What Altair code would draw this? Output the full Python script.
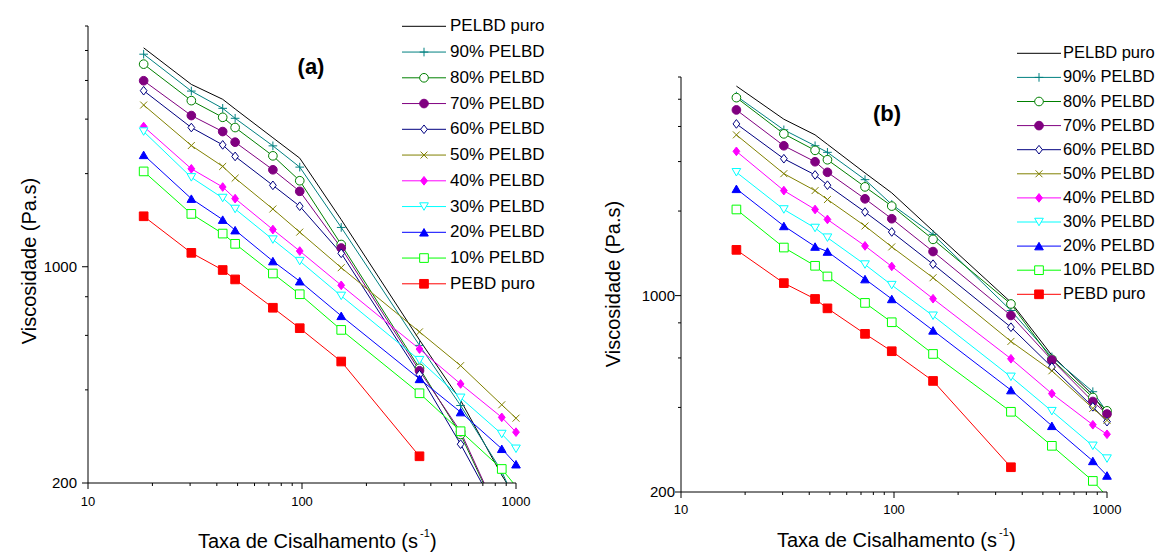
import altair as alt
import pandas as pd

# ---------------- data ----------------
shear_rate = [18.2, 30.4, 42.6, 48.7, 73.1, 97.6, 152.5, 354, 551, 858, 1000]
series = ["PELBD puro", "90% PELBD", "80% PELBD", "70% PELBD", "60% PELBD",
          "50% PELBD", "40% PELBD", "30% PELBD", "20% PELBD", "10% PELBD", "PEBD puro"]

# panel (a)
a_pelbd = [5100, 3885, 3477, 3236, 2612, 2244, 1420, 580, 370, 212, 179]
a_90 = [4864, 3697, 3251, 3019, 2459, 2099, 1340, 557, 356, 218, 172]
a_80 = [4517, 3443, 3041, 2818, 2283, 1897, 1180, 470, 287, 149, 125]
a_70 = [3992, 3081, 2735, 2527, 2058, 1753, 1150, 461, 293, 150, 118]
a_60 = [3707, 2818, 2477, 2273, 1833, 1569, 1105, 448, 267, 152, 125]
a_50 = [3332, 2465, 2110, 1934, 1537, 1294, 993, 616, 479, 358, 324]
a_40 = [2839, 2073, 1810, 1660, 1319, 1124, 871, 542, 418, 326, 292]
a_30 = [2735, 1945, 1668, 1537, 1224, 1043, 805, 499, 377, 288, 258]
a_20 = [2299, 1660, 1420, 1313, 1043, 898, 694, 434, 339, 258, 230]
a_10 = [2033, 1482, 1280, 1186, 951, 815, 625, 390, 294, 222, 195]
a_pebd = [1456, 1109, 976, 910, 737, 633, 494, 244]

# panel (b)
b_pelbd = [5569, 4245, 3734, 3456, 2733, 2321, 1699, 947, 613, 443, 375]
b_90 = [5132, 3891, 3415, 3236, 2587, 2111, 1652, 885, 605, 455, 385]
b_80 = [5066, 3765, 3289, 3045, 2438, 2083, 1586, 934, 593, 434, 389]
b_70 = [4581, 3415, 2996, 2748, 2211, 1878, 1435, 850, 590, 420, 379]
b_60 = [4085, 3071, 2689, 2472, 1984, 1685, 1294, 772, 557, 402, 356]
b_50 = [3734, 2717, 2365, 2198, 1770, 1491, 1158, 687, 540, 397, 360]
b_40 = [3262, 2365, 2026, 1867, 1503, 1270, 975, 596, 448, 347, 321]
b_30 = [2748, 2026, 1741, 1608, 1290, 1090, 848, 514, 388, 292, 263]
b_20 = [2399, 1770, 1495, 1435, 1145, 973, 752, 461, 344, 258, 229]
b_10 = [2026, 1483, 1277, 1170, 942, 804, 620, 386, 292, 219, 193]
b_pebd = [1455, 1108, 973, 901, 731, 634, 497, 245]

x_major = [10, 100, 1000]
x_minor = [20, 30, 40, 50, 60, 70, 80, 90, 200, 300, 400, 500, 600, 700, 800, 900]
y_major = [200, 1000]
y_minor = [400, 600, 800, 2000, 3000, 4000, 5000, 6000]

x_title = "Taxa de Cisalhamento (s"
x_title_sup = "-1"
x_title_end = ")"
y_title = "Viscosidade (Pa.s)"

# ---------------- styles ----------------
colors = ["#000000", "#008080", "#008000", "#800080", "#000080", "#808000",
          "#FF00FF", "#00FFFF", "#0000FF", "#00FF00", "#FF0000"]
PLUS = "M-1,0L1,0M0,-1L0,1"
XSHAPE = "M-0.8,-0.8L0.8,0.8M-0.8,0.8L0.8,-0.8"
DIAM = "M0,-1L0.78,0L0,1L-0.78,0Z"
shapes_a = ["circle", PLUS, "circle", "circle", DIAM, XSHAPE, DIAM,
            "triangle-down", "triangle-up", "square", "square"]
shapes_b = ["circle", PLUS, "circle", "circle", DIAM, XSHAPE, "triangle-up",
            "triangle-down", "triangle-up", "square", "square"]
fills = ["transparent", "transparent", "#FFFFFF", "#800080", "#FFFFFF", "transparent",
         "#FF00FF", "#FFFFFF", "#0000FF", "#FFFFFF", "#FF0000"]
FONT = "Liberation Sans"
MSIZE = 75


def panel(values, shapes, W, H, xlab_dy, ylab_dx, leg, label, lab_xy, ytitle_xy, xtitle_xy):
    rows = []
    for k, (name, ys) in enumerate(zip(series, values)):
        for i, v in enumerate(ys):
            rows.append({"series": name, "rate": shear_rate[i], "visc": v, "k": k})
    df = pd.DataFrame(rows)

    xs = alt.Scale(type="log", domain=[10, 1000], nice=False)
    ys = alt.Scale(type="log", domain=[200, 6000], nice=False)
    stroke = alt.Stroke("series:N", scale=alt.Scale(domain=series, range=colors), legend=None)
    fill = alt.Fill("series:N", scale=alt.Scale(domain=series, range=fills), legend=None)
    shape = alt.Shape("series:N", scale=alt.Scale(domain=series, range=shapes), legend=None)

    base = alt.Chart(df)
    lines = base.mark_line(clip=True, strokeWidth=1).encode(
        x=alt.X("rate:Q", scale=xs, axis=None),
        y=alt.Y("visc:Q", scale=ys, axis=None),
        stroke=stroke,
        detail="series:N",
        order="rate:Q",
    )
    points = base.transform_filter(
        (alt.datum.visc >= 200) & (alt.datum.series != "PELBD puro")
    ).mark_point(filled=True, strokeWidth=1, size=MSIZE, opacity=1).encode(
        x=alt.X("rate:Q", scale=xs, axis=None),
        y=alt.Y("visc:Q", scale=ys, axis=None),
        stroke=stroke, fill=fill, shape=shape,
        order="k:Q",
    )

    # axes drawn by hand (domain lines, major/minor ticks, labels)
    one = pd.DataFrame({"o": [0]})
    ydom = alt.Chart(one).mark_rule(color="black", strokeWidth=1).encode(
        x=alt.value(0), y=alt.value(0), y2=alt.value(H))
    xdom = alt.Chart(one).mark_rule(color="black", strokeWidth=1).encode(
        x=alt.value(0), x2=alt.value(W), y=alt.value(H))
    xmaj_df = pd.DataFrame({"t": x_major})
    xmaj = alt.Chart(xmaj_df).mark_rule(color="black", strokeWidth=1).encode(
        x=alt.X("t:Q", scale=xs, axis=None), y=alt.value(H), y2=alt.value(H + 6))
    xlab = alt.Chart(xmaj_df).mark_text(font=FONT, fontSize=13, color="black",
                                        align="center", baseline="alphabetic").encode(
        x=alt.X("t:Q", scale=xs, axis=None), y=alt.value(H + xlab_dy), text=alt.Text("t:Q", format="d"))
    xmin = alt.Chart(pd.DataFrame({"t": x_minor})).mark_rule(color="black", strokeWidth=1).encode(
        x=alt.X("t:Q", scale=xs, axis=None), y=alt.value(H), y2=alt.value(H + 3))
    ymaj_df = pd.DataFrame({"t": y_major})
    ymaj = alt.Chart(ymaj_df).mark_rule(color="black", strokeWidth=1).encode(
        y=alt.Y("t:Q", scale=ys, axis=None), x=alt.value(0), x2=alt.value(-6))
    ylab = alt.Chart(ymaj_df).mark_text(font=FONT, fontSize=15, color="black",
                                        align="right", baseline="middle").encode(
        y=alt.Y("t:Q", scale=ys, axis=None), x=alt.value(ylab_dx), text=alt.Text("t:Q", format="d"))
    ymin = alt.Chart(pd.DataFrame({"t": y_minor})).mark_rule(color="black", strokeWidth=1).encode(
        y=alt.Y("t:Q", scale=ys, axis=None), x=alt.value(0), x2=alt.value(-3))

    # legend drawn by hand (line + marker + text)
    top, gap, lx1, lx2, lmx, ltx, lfs = leg
    ldf = pd.DataFrame({"series": series, "idx": list(range(len(series)))})
    lbase = alt.Chart(ldf).transform_calculate(ly=f"{top} + datum.idx * {gap}")
    lrule = lbase.mark_rule(strokeWidth=1).encode(
        x=alt.value(lx1), x2=alt.value(lx2), y=alt.Y("ly:Q", scale=None, axis=None), stroke=stroke)
    lpts = lbase.transform_filter(alt.datum.series != "PELBD puro").mark_point(
        filled=True, strokeWidth=1, size=MSIZE, opacity=1).encode(
        x=alt.value(lmx), y=alt.Y("ly:Q", scale=None, axis=None), stroke=stroke, fill=fill, shape=shape)
    ltxt = lbase.mark_text(align="left", baseline="middle", font=FONT, fontSize=lfs, color="black").encode(
        x=alt.value(ltx), y=alt.Y("ly:Q", scale=None, axis=None), text="series:N")

    def txt(s, x, y, size, **kw):
        return alt.Chart(pd.DataFrame({"s": [s]})).mark_text(font=FONT, fontSize=size, color="black", **kw).encode(
            text="s:N", x=alt.value(x), y=alt.value(y))

    lab = txt(label, lab_xy[0], lab_xy[1], 22, fontWeight="bold", align="center", baseline="middle")
    yt = txt(y_title, ytitle_xy[0], ytitle_xy[1], 20, angle=270, align="center", baseline="middle")
    xr, xb = xtitle_xy
    xt1 = txt(x_title, xr, xb, 20, align="right", baseline="alphabetic")
    xt2 = txt(x_title_sup, xr + 2, xb - 11, 11, align="left", baseline="alphabetic")
    xt3 = txt(x_title_end, xr + 12, xb, 20, align="left", baseline="alphabetic")

    return alt.layer(lines, points, ydom, xdom, xmaj, xmin, ymaj, ymin, xlab, ylab,
                     lrule, lpts, ltxt, lab, yt, xt1, xt2, xt3).properties(width=W, height=H)


vals_a = [a_pelbd, a_90, a_80, a_70, a_60, a_50, a_40, a_30, a_20, a_10, a_pebd]
vals_b = [b_pelbd, b_90, b_80, b_70, b_60, b_50, b_40, b_30, b_20, b_10, b_pebd]

A = panel(vals_a, shapes_a, 428, 457, 23, -11,
          (0.3, 25.75, 314, 358, 336, 362, 17), "(a)", (223, 41), (-58, 235), (330, 522))
B = panel(vals_b, shapes_b, 426, 415, 22, -6,
          (-23.7, 24.1, 336, 380, 358, 382, 16.5), "(b)", (206, 37), (-67, 207), (316, 470))

spacer = alt.Chart(pd.DataFrame({"s": [""]})).mark_text().encode(text="s:N").properties(width=426, height=51)

chart = alt.hconcat(
    A,
    alt.vconcat(spacer, B, spacing=0, bounds="flush"),
    spacing=165, bounds="flush",
).properties(
    padding={"left": 20, "top": 17, "right": 0, "bottom": 0}, background="white"
).configure_view(stroke=None)

chart.save("out.html", embed_options={"renderer": "svg", "actions": False})
